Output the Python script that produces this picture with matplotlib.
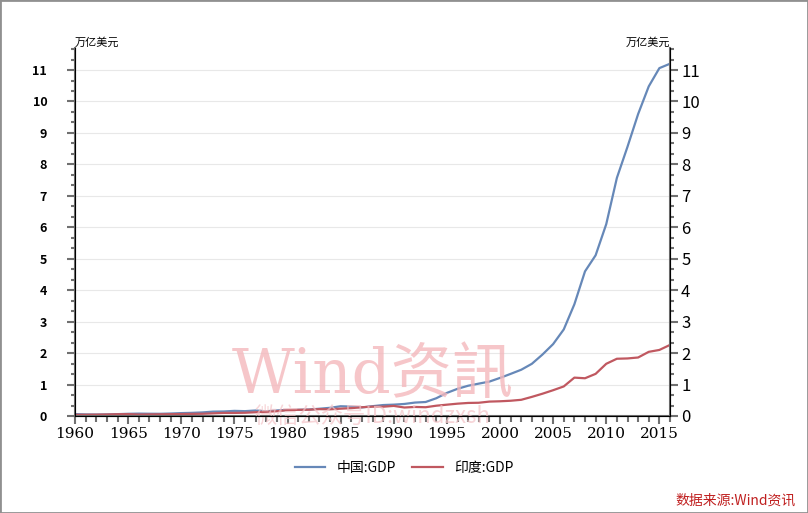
import matplotlib
matplotlib.use("Agg")
import matplotlib.pyplot as plt
from matplotlib.ticker import MultipleLocator

plt.rcParams['font.family'] = ['Noto Sans CJK SC', 'DejaVu Sans']

years = list(range(1960, 2017))
china = [0.060, 0.050, 0.047, 0.050, 0.059, 0.070, 0.076, 0.072, 0.070, 0.079,
         0.092, 0.100, 0.114, 0.139, 0.144, 0.163, 0.154, 0.175, 0.150, 0.178,
         0.191, 0.196, 0.205, 0.231, 0.260, 0.310, 0.300, 0.273, 0.312, 0.348,
         0.361, 0.383, 0.427, 0.445, 0.564, 0.734, 0.864, 0.962, 1.029, 1.094,
         1.211, 1.339, 1.471, 1.660, 1.955, 2.286, 2.752, 3.552, 4.598, 5.110,
         6.100, 7.570, 8.560, 9.600, 10.480, 11.060, 11.200]
india = [0.037, 0.039, 0.042, 0.048, 0.056, 0.059, 0.046, 0.050, 0.053, 0.058,
         0.062, 0.067, 0.071, 0.085, 0.099, 0.098, 0.103, 0.120, 0.135, 0.152,
         0.186, 0.196, 0.200, 0.218, 0.212, 0.233, 0.249, 0.279, 0.297, 0.296,
         0.321, 0.270, 0.288, 0.279, 0.327, 0.360, 0.392, 0.415, 0.421, 0.458,
         0.468, 0.485, 0.515, 0.608, 0.709, 0.820, 0.940, 1.220, 1.200, 1.340,
         1.660, 1.820, 1.830, 1.860, 2.040, 2.100, 2.260]
yticks = list(range(0, 12))

fig = plt.figure(figsize=(8.08, 5.13), dpi=100)
ax = fig.add_axes([75/808, 1 - 416/513, 595/808, 368/513])
ax.plot(years, china, color='#6688b8', lw=1.6, label='中国:GDP')
ax.plot(years, india, color='#c05860', lw=1.6, label='印度:GDP')
ax.set_xlim(1960, 2016)
ax.set_ylim(0, 11.7)
ax.set_yticks(yticks)
ax.yaxis.set_minor_locator(MultipleLocator(1/3))
ax.set_xticks(range(1960, 2016, 5))
ax.xaxis.set_minor_locator(MultipleLocator(1))
ax.grid(axis='y', color='#e8e8e8', lw=0.8)
ax.spines['top'].set_visible(False)
for s in ['left', 'right', 'bottom']:
    ax.spines[s].set_color('#707070')
    ax.spines[s].set_linewidth(1.5)
ax.tick_params(which='both', color='#707070', width=1.5)
ax.tick_params(axis='y', which='major', length=6, labelsize=9, pad=14)
ax.tick_params(axis='y', which='minor', length=3)
ax.tick_params(axis='x', which='major', length=6, labelsize=11, pad=2)
ax.tick_params(axis='x', which='minor', length=4)
for t in ax.get_yticklabels():
    t.set_fontweight('bold')
for t in ax.get_xticklabels():
    t.set_family('DejaVu Serif')

ax2 = ax.twinx()
ax2.set_ylim(0, 11.7)
ax2.set_yticks(yticks)
ax2.yaxis.set_minor_locator(MultipleLocator(1/3))
ax2.spines['top'].set_visible(False)
ax2.tick_params(which='both', color='#707070', width=1.5)
ax2.tick_params(axis='y', which='major', length=6, labelsize=12, pad=2)
ax2.tick_params(axis='y', which='minor', length=3)

ax.text(0, 1.0, '万亿美元', transform=ax.transAxes, fontsize=8, va='bottom', ha='left')
ax.text(1, 1.0, '万亿美元', transform=ax.transAxes, fontsize=8, va='bottom', ha='right')

ax.text(0.5, 0.11, 'Wind资訊', transform=ax.transAxes, fontsize=44, color='#f4b8bc',
        ha='center', va='center', alpha=0.8, family=['DejaVu Serif', 'Noto Sans CJK SC'])
ax.text(0.5, 0.0, '微信公众号ID:windzxsh', transform=ax.transAxes, fontsize=16, color='#f4c4c8',
        ha='center', va='center', alpha=0.7)

fig.legend(loc='lower center', bbox_to_anchor=(0.5, 0.05), ncol=2, frameon=False, fontsize=10,
           handlelength=2.2, columnspacing=1.2)
fig.text(0.985, 0.01, '数据来源:Wind资讯', color='#c02020', fontsize=10, ha='right', va='bottom',
         style='italic')
fig.patches.append(plt.Rectangle((0, 0), 1, 1, transform=fig.transFigure, fill=False,
                                 edgecolor='#909090', lw=2))
fig.savefig('out.png', dpi=100)
